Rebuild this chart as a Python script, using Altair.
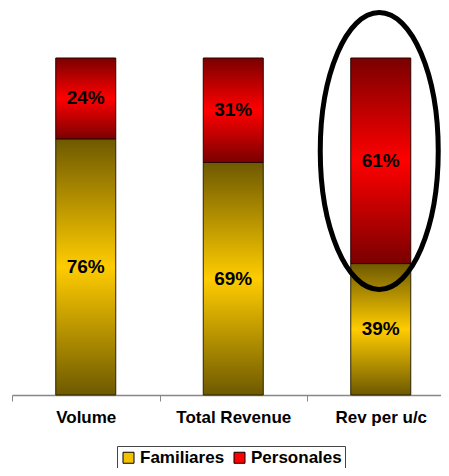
import altair as alt
import pandas as pd

categories = ["Volume", "Total Revenue", "Rev per u/c"]
series = ["Familiares", "Personales"]
familiares = [76, 69, 39]
personales = [24, 31, 61]
highlight_category = "Rev per u/c"
highlight_center = 72.4

rows = []
for i, c in enumerate(categories):
    rows.append({"cat": c, "series": "Familiares", "value": familiares[i], "order": 0})
    rows.append({"cat": c, "series": "Personales", "value": personales[i], "order": 1})
df = pd.DataFrame(rows)

FONT = "Liberation Sans"

def vgrad(dark, light):
    return alt.Gradient(
        gradient="linear",
        stops=[
            alt.GradientStop(color=dark, offset=0),
            alt.GradientStop(color=light, offset=0.5),
            alt.GradientStop(color=dark, offset=1),
        ],
        x1=0, x2=0, y1=0, y2=1,
    )

grad_f = vgrad("#6e5900", "#ffcc00")
grad_p = vgrad("#7a0000", "#ff0000")

x_enc = alt.X(
    "cat:N",
    sort=categories,
    scale=alt.Scale(range=[0, 442.5], paddingInner=0, paddingOuter=0),
    axis=alt.Axis(
        title=None, labelAngle=0, labelFont=FONT, labelFontSize=17,
        labelFontWeight="bold", labelColor="black", labelPadding=8,
        domainColor="#888888", tickColor="#888888", tickSize=6,
        tickBand="extent", domainWidth=1.5,
    ),
)
y_scale = alt.Scale(domain=[0, 100], nice=False, zero=True)

base = alt.Chart(df).transform_stack(
    stack="value", groupby=["cat"], as_=["y0", "y1"],
    sort=[alt.SortField("order", order="ascending")],
).transform_calculate(
    ymid="(datum.y0 + datum.y1) / 2",
    label="datum.value + '%'",
)

fam = base.transform_filter("datum.series == 'Familiares'").mark_bar(
    size=60, fill=grad_f, stroke="#2a2200", strokeWidth=1
).encode(x=x_enc, y=alt.Y("y0:Q", scale=y_scale, axis=None), y2="y1:Q")

per = base.transform_filter("datum.series == 'Personales'").mark_bar(
    size=60, fill=grad_p, stroke="#2a0000", strokeWidth=1
).encode(x=x_enc, y=alt.Y("y0:Q", scale=y_scale, axis=None), y2="y1:Q")

txt = base.mark_text(
    font=FONT, fontSize=19, fontWeight="bold", color="black", baseline="middle"
).encode(x=x_enc, y=alt.Y("ymid:Q", scale=y_scale, axis=None), text="label:N")

legend_layer = alt.Chart(df).mark_square(size=0, opacity=1).encode(
    color=alt.Color(
        "series:N",
        scale=alt.Scale(domain=series, range=["#f2c200", "#ff0000"]),
        legend=alt.Legend(
            title=None, orient="none", legendX=105, legendY=388,
            direction="horizontal", strokeColor="#444444", padding=3,
            labelFont=FONT, labelFontSize=17, labelFontWeight="bold",
            labelColor="black", labelOffset=3, columnPadding=6,
            symbolType="square", symbolSize=121, symbolStrokeColor="black",
            symbolStrokeWidth=1, symbolOpacity=1,
        ),
    )
)

ellipse_df = pd.DataFrame({"cat": [highlight_category], "yc": [highlight_center]})
ellipse_path = "M-0.426,0 A0.426,1 0 1,1 0.426,0 A0.426,1 0 1,1 -0.426,0 Z"
ellipse = alt.Chart(ellipse_df).mark_point(
    shape=ellipse_path, size=76729, filled=False, stroke="black",
    strokeWidth=5, opacity=1, strokeOpacity=1, xOffset=-1.5,
).encode(x=x_enc, y=alt.Y("yc:Q", scale=y_scale, axis=None))

chart = alt.layer(fam, per, txt, legend_layer, ellipse).properties(
    width=429, height=337,
    autosize=alt.AutoSizeParams(type="none"),
    padding={"left": 4, "top": 50, "right": 0, "bottom": 73},
).configure_view(stroke=None)

chart.save("out.html", embed_options={"renderer": "svg", "actions": False})
